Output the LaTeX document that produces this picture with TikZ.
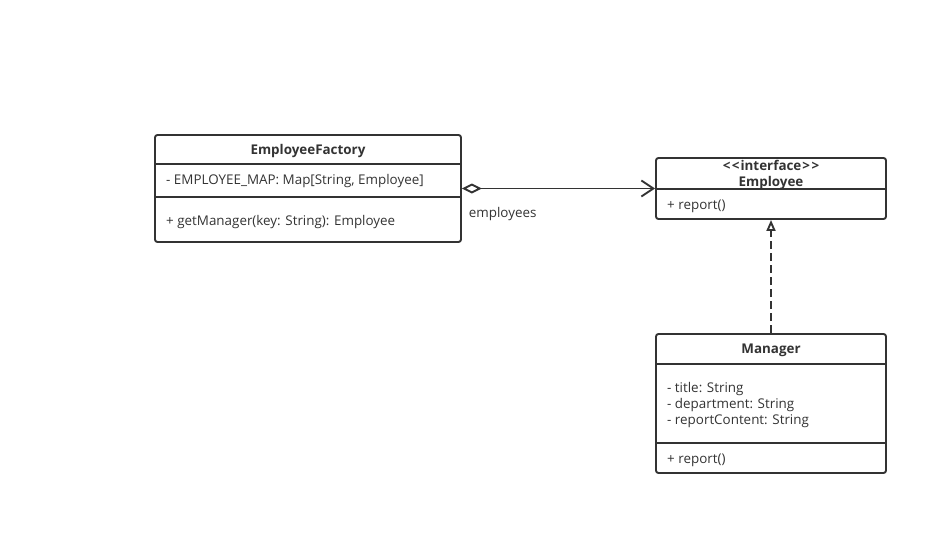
\documentclass[tikz,border=0pt]{standalone}
\usepackage{fontspec}
\setmainfont{Open Sans}
\usetikzlibrary{arrows.meta,calc}
\definecolor{umlgray}{HTML}{333333}
\tikzset{x=1pt,y=-1pt,
  umlbox/.style = {draw=umlgray,line width=1.9pt,rounded corners=2.5pt,inner sep=0pt},
  sep/.style = {draw=umlgray,line width=1.9pt},
  txt/.style = {text=umlgray,inner sep=0pt,font=\fontsize{13.4}{16}\selectfont},
  title/.style = {txt,font=\fontsize{13.4}{16}\selectfont\bfseries},
  member/.style = {txt,anchor=west,align=left},
  conn/.style = {draw=umlgray,line width=1.9pt}
}

\begin{document}
\begin{tikzpicture}
  \useasboundingbox (0,0) rectangle (947,535);

  \node[umlbox,minimum width=306,minimum height=107] (factory) at (308,188.5) {};
  \draw[sep] ($(factory.west)+(0,-24.5)$) -- ($(factory.east)+(0,-24.5)$);
  \draw[sep] ($(factory.west)+(0,8.5)$) -- ($(factory.east)+(0,8.5)$);
  \node[title] (factoryname) at (308,151.5) {EmployeeFactory};
  \node[member] (factorymap) at (166,181.5) {- EMPLOYEE\_MAP: Map[String, Employee]};
  \node[member] (factoryget) at (166,222.5) {+ getManager(key: String): Employee};

  \node[umlbox,minimum width=230,minimum height=61] (employee) at (771,188.5) {};
  \draw[sep] ($(employee.west)+(0,0.5)$) -- ($(employee.east)+(0,0.5)$);
  \node[title,align=center] (employeename) at (771,175)
      {{<}\kern1.5pt{<}\kern1pt interface\kern1pt{>}\kern1.5pt{>}\\Employee};
  \node[member] (employeereport) at (667,206.5) {+ report()};

  \node[umlbox,minimum width=230,minimum height=139] (manager) at (771,403.5) {};
  \draw[sep] ($(manager.west)+(0,-39.5)$) -- ($(manager.east)+(0,-39.5)$);
  \draw[sep] ($(manager.west)+(0,39.5)$) -- ($(manager.east)+(0,39.5)$);
  \node[title] (managername) at (771,350.5) {Manager};
  \node[member] (managerattr) at (667,405.5)
      {- title: String\\- department: String\\- reportContent: String};
  \node[member] (managerreport) at (667,460.5) {+ report()};

  \draw[conn,{Diamond[open,length=20,width=10]}-{Straight Barb[length=12,width=16]}]
      (factory.east |- employee.west) -- (employee.west)
      node[txt,anchor=north west,pos=0,xshift=6,yshift=-17.5]{employees};
  \draw[conn,dash pattern=on 8pt off 4pt,-{Triangle[open,length=11,width=9]}]
      (manager.north) -- (employee.south);
\end{tikzpicture}
\end{document}
